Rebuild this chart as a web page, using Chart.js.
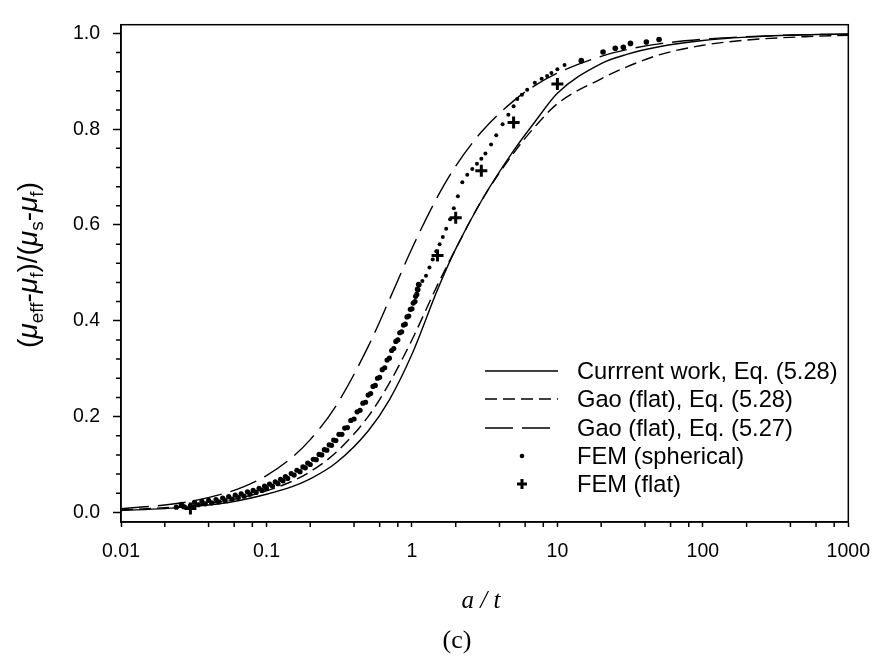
<!DOCTYPE html>
<html><head><meta charset="utf-8">
<script src="https://cdn.jsdelivr.net/npm/chart.js@4/dist/chart.umd.min.js"></script>
<style>html,body{margin:0;padding:0;background:#fff;} #wrap{width:883px;height:659px;position:relative;}</style>
</head><body><div id="wrap"><canvas id="c" width="883" height="659"></canvas></div>
<script>
// ---- tick labels ----
const xTickValues = [0.01, 0.1, 1, 10, 100, 1000];
const xTickLabels = ['0.01', '0.1', '1', '10', '100', '1000'];
const xMinorMultipliers = [2, 4, 6, 8];
const yTickValues = [0, 0.2, 0.4, 0.6, 0.8, 1.0];
const yTickLabels = ['0.0', '0.2', '0.4', '0.6', '0.8', '1.0'];
const yMinorValues = [0.04, 0.08, 0.12, 0.16, 0.24, 0.28, 0.32, 0.36, 0.44, 0.48, 0.52, 0.56, 0.64, 0.68, 0.72, 0.76, 0.84, 0.88, 0.92, 0.96];

// ---- series ----
const seriesLabels = ['Currrent work, Eq. (5.28)', 'Gao (flat), Eq. (5.28)', 'Gao (flat), Eq. (5.27)', 'FEM (spherical)', 'FEM (flat)'];
const curveX      = [0.01, 0.02, 0.03, 0.05, 0.07, 0.1, 0.15, 0.2, 0.3, 0.5, 0.7, 1, 1.5, 2, 3, 5, 7, 10, 20, 30, 50, 100, 200, 500, 1000];
const currentWork = [0.004, 0.008, 0.012, 0.019, 0.027, 0.038, 0.054, 0.070, 0.103, 0.170, 0.235, 0.330, 0.465, 0.550, 0.650, 0.755, 0.815, 0.875, 0.937, 0.956, 0.972, 0.985, 0.992, 0.997, 0.9985];
const gao528      = [0.005, 0.010, 0.014, 0.023, 0.032, 0.045, 0.065, 0.085, 0.125, 0.200, 0.270, 0.360, 0.475, 0.550, 0.650, 0.750, 0.805, 0.853, 0.905, 0.930, 0.955, 0.975, 0.986, 0.993, 0.996];
const gao527      = [0.0077, 0.0155, 0.023, 0.0386, 0.054, 0.077, 0.115, 0.152, 0.222, 0.346, 0.444, 0.551, 0.659, 0.723, 0.794, 0.859, 0.891, 0.917, 0.952, 0.966, 0.978, 0.9875, 0.993, 0.997, 0.998];

const femSphX = [0.024,0.027,0.030,0.034,0.038,0.042,0.047,0.052,0.058,0.064,0.070,0.077,0.085,0.093,0.10,0.11,0.12,0.13,0.14,0.155,0.17,0.185,0.20,0.22,0.24,0.26,0.28,0.30,0.33,0.36,0.40,0.44,0.48,0.52,0.56,0.60,0.65,0.70,0.75,0.80,0.85,0.90,0.95,1.00,1.05,1.08,1.10,1.12,
  1.18,1.25,1.32,1.39,1.47,1.55,1.63,1.72,1.83,1.94,2.07,2.22,2.4,2.6,2.8,3.0,3.2,3.5,3.8,4.2,4.6,5.0,5.3,5.7,6.2,7.0,7.8,8.5,9.1,10.0,11.2,
  14.6,20.6,25,28.4,31.8,40.9,50];
const femSphY = [0.011,0.012,0.014,0.016,0.018,0.020,0.022,0.025,0.028,0.031,0.034,0.038,0.042,0.046,0.050,0.055,0.060,0.066,0.071,0.078,0.085,0.093,0.100,0.110,0.120,0.130,0.140,0.150,0.163,0.177,0.195,0.213,0.230,0.248,0.265,0.282,0.302,0.322,0.342,0.360,0.377,0.393,0.410,0.425,0.440,0.455,0.465,0.475,
  0.483,0.494,0.511,0.528,0.545,0.560,0.575,0.592,0.612,0.635,0.660,0.689,0.705,0.717,0.728,0.738,0.749,0.768,0.787,0.810,0.830,0.848,0.863,0.872,0.882,0.897,0.905,0.911,0.917,0.925,0.934,
  0.943,0.961,0.969,0.971,0.979,0.982,0.987];
// second (upper) row of the dense FEM band
const femSphX2 = [0.026,0.032,0.036,0.040,0.045,0.050,0.055,0.061,0.067,0.074,0.081,0.089,0.097,0.105,0.115,0.125,0.135,0.148,0.162,0.178,0.192,0.21,0.23,0.25,0.27,0.29,0.315,0.345,0.38,0.42,0.46,0.50,0.54,0.58,0.625,0.675,0.725,0.775,0.825,0.875,0.925,0.975,1.02,1.06,1.09,1.11];
const femSphY2 = [0.017,0.021,0.023,0.025,0.027,0.030,0.033,0.036,0.039,0.043,0.046,0.050,0.055,0.059,0.064,0.069,0.075,0.081,0.088,0.095,0.103,0.111,0.121,0.131,0.141,0.151,0.163,0.176,0.192,0.210,0.228,0.245,0.263,0.280,0.298,0.318,0.338,0.357,0.375,0.391,0.408,0.424,0.437,0.451,0.466,0.476];

const femFlatX = [0.03, 1.5, 2, 3, 5, 10];
const femFlatY = [0.008, 0.536, 0.615, 0.713, 0.814, 0.894];

// ---- build ----
const pts = (xs, ys) => xs.map((x, i) => ({x: x, y: ys[i]}));
const lineBase = {showLine: true, pointRadius: 0, pointHoverRadius: 0, borderColor: '#000', backgroundColor: '#000', borderWidth: 1.4, cubicInterpolationMode: 'monotone', fill: false};

const dotRadius = (c) => {
  const x = c.raw ? c.raw.x : 1;
  if (x > 13) return 2.8;
  if (x > 1.15) return 2.0;
  return 2.6;
};

const datasets = [
  Object.assign({label: seriesLabels[0], data: pts(curveX, currentWork), borderDash: []}, lineBase),
  Object.assign({label: seriesLabels[1], data: pts(curveX, gao528)}, lineBase, {borderDash: [12, 6]}),
  Object.assign({label: seriesLabels[2], data: pts(curveX, gao527)}, lineBase, {borderDash: [28, 9]}),
  {label: seriesLabels[3], data: pts(femSphX, femSphY).concat(pts(femSphX2, femSphY2)), showLine: false, pointStyle: 'circle',
   pointRadius: dotRadius, pointBorderWidth: 0, backgroundColor: '#000', borderColor: '#000'},
  {label: seriesLabels[4], data: pts(femFlatX, femFlatY), showLine: false, pointStyle: 'cross',
   pointRadius: 6, pointBorderWidth: 3, backgroundColor: '#000', borderColor: '#000'}
];

const FONT = '"Liberation Sans", Arial, sans-serif';

const decorPlugin = {
  id: 'decor',
  afterDraw(chart) {
    const ctx = chart.ctx, xs = chart.scales.x, ys = chart.scales.y, ca = chart.chartArea;
    ctx.save();
    ctx.strokeStyle = '#000';
    ctx.lineWidth = 1.5;
    ctx.setLineDash([]);
    ctx.strokeRect(ca.left, ca.top, ca.right - ca.left, ca.bottom - ca.top);
    ctx.beginPath();
    for (let d = -2; d < 3; d++) {
      for (const m of xMinorMultipliers) {
        const px = xs.getPixelForValue(m * Math.pow(10, d));
        ctx.moveTo(px, ca.bottom); ctx.lineTo(px, ca.bottom + 5);
      }
    }
    for (const v of yMinorValues) {
      const py = ys.getPixelForValue(v);
      ctx.moveTo(ca.left - 5, py); ctx.lineTo(ca.left, py);
    }
    ctx.stroke();

    // legend
    const rows = [371, 399, 428, 456, 484];
    const lx0 = 485, lx1 = 558, tx = 577;
    ctx.font = '23.7px ' + FONT;
    ctx.fillStyle = '#000';
    ctx.textBaseline = 'middle';
    ctx.textAlign = 'left';
    chart.data.datasets.forEach((ds, i) => {
      const y = rows[i];
      if (ds.showLine) {
        ctx.save();
        ctx.lineWidth = 1.4;
        ctx.setLineDash(ds.borderDash || []);
        ctx.beginPath(); ctx.moveTo(lx0, y); ctx.lineTo(lx1, y); ctx.stroke();
        ctx.restore();
      } else if (ds.pointStyle === 'circle') {
        ctx.beginPath(); ctx.arc(522, y, 2.3, 0, Math.PI * 2); ctx.fill();
      } else {
        ctx.save(); ctx.lineWidth = 3;
        ctx.beginPath(); ctx.moveTo(522 - 5, y); ctx.lineTo(522 + 5, y);
        ctx.moveTo(522, y - 5); ctx.lineTo(522, y + 5); ctx.stroke();
        ctx.restore();
      }
      ctx.fillText(ds.label, tx, y + 1);
    });

    // y title with subscripts
    ctx.save();
    ctx.translate(37, 265);
    ctx.rotate(-Math.PI / 2);
    const big = 28, small = 19;
    const segs = [
      ['(', 'n'], ['\u03bc', 'i'], ['eff', 's'], ['-', 'n'], ['\u03bc', 'i'], ['f', 's'], [')/(', 'n'],
      ['\u03bc', 'i'], ['s', 's'], ['-', 'n'], ['\u03bc', 'i'], ['f', 's'], [')', 'n']
    ];
    const fontFor = (k) => k === 's' ? small + 'px ' + FONT : (k === 'i' ? 'italic ' + big + 'px ' + FONT : big + 'px ' + FONT);
    let total = 0;
    for (const [t, k] of segs) { ctx.font = fontFor(k); total += ctx.measureText(t).width; }
    let u = -total / 2;
    ctx.textAlign = 'left';
    ctx.textBaseline = 'alphabetic';
    for (const [t, k] of segs) {
      ctx.font = fontFor(k);
      ctx.fillText(t, u, k === 's' ? 6 : 0);
      u += ctx.measureText(t).width;
    }
    ctx.restore();

    // x title and caption
    ctx.textAlign = 'center';
    ctx.textBaseline = 'alphabetic';
    ctx.font = 'italic 25px "Liberation Serif", "Times New Roman", serif';
    ctx.fillText('a / t', 481, 608);
    ctx.font = '26px "Liberation Serif", "Times New Roman", serif';
    ctx.fillText('(c)', 457, 648);
    ctx.restore();
  }
};

new Chart(document.getElementById('c'), {
  type: 'scatter',
  data: {datasets: datasets},
  options: {
    responsive: false,
    animation: false,
    events: [],
    layout: {padding: {top: 6.5, right: 26, left: 0, bottom: 0}},
    plugins: {legend: {display: false}, tooltip: {enabled: false}, title: {display: false}},
    scales: {
      x: {
        type: 'logarithmic', min: 0.01, max: 1000,
        afterBuildTicks: (s) => { s.ticks = xTickValues.map(v => ({value: v, major: true})); },
        afterFit: (s) => { s.height = 137; },
        ticks: {autoSkip: false, maxRotation: 0, padding: 13, color: '#000', font: {family: FONT, size: 19.5},
                callback: (v, i) => xTickLabels[i]},
        grid: {drawOnChartArea: false, drawTicks: true, tickLength: 5, tickWidth: 1.5, tickColor: '#000'},
        border: {display: true, color: '#000', width: 1.5}
      },
      y: {
        type: 'linear', min: -0.02, max: 1.018,
        afterBuildTicks: (s) => { s.ticks = yTickValues.map(v => ({value: v})); },
        afterFit: (s) => { s.width = 121; },
        ticks: {autoSkip: false, padding: 13, color: '#000', font: {family: FONT, size: 19.5},
                callback: (v, i) => yTickLabels[i]},
        grid: {drawOnChartArea: false, drawTicks: true, tickLength: 8, tickWidth: 1.5, tickColor: '#000'},
        border: {display: true, color: '#000', width: 1.5}
      }
    }
  },
  plugins: [decorPlugin]
});
</script>
</body></html>
